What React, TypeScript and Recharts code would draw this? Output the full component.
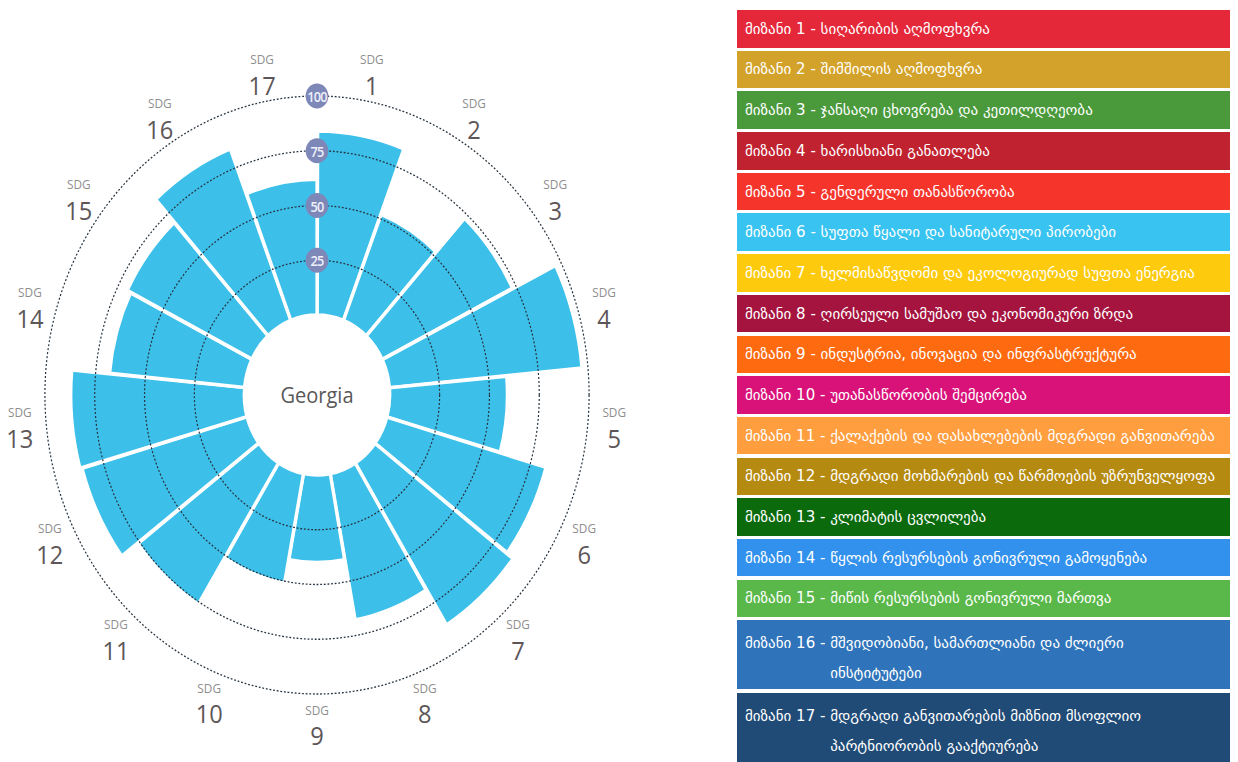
import React from 'react';
import { RadialBarChart, RadialBar, PolarAngleAxis, PolarRadiusAxis, PolarGrid } from 'recharts';

// ---- data ----
const CATEGORIES = ['1', '2', '3', '4', '5', '6', '7', '8', '9', '10', '11', '12', '13', '14', '15', '16', '17'];
const SCORES = [84, 52, 73, 97, 59, 83, 87, 68, 40, 51, 76, 86, 87, 68, 70, 84, 62];
const RADIUS_TICKS = [25, 50, 75, 100];
const COUNTRY = 'Georgia';
const AXIS_PREFIX = 'SDG';
const GOAL_WORD = 'მიზანი';
const GOAL_NAMES = [
  'სიღარიბის აღმოფხვრა',
  'შიმშილის აღმოფხვრა',
  'ჯანსაღი ცხოვრება და კეთილდღეობა',
  'ხარისხიანი განათლება',
  'გენდერული თანასწორობა',
  'სუფთა წყალი და სანიტარული პირობები',
  'ხელმისაწვდომი და ეკოლოგიურად სუფთა ენერგია',
  'ღირსეული სამუშაო და ეკონომიკური ზრდა',
  'ინდუსტრია, ინოვაცია და ინფრასტრუქტურა',
  'უთანასწორობის შემცირება',
  'ქალაქების და დასახლებების მდგრადი განვითარება',
  'მდგრადი მოხმარების და წარმოების უზრუნველყოფა',
  'კლიმატის ცვლილება',
  'წყლის რესურსების გონივრული გამოყენება',
  'მიწის რესურსების გონივრული მართვა',
  'მშვიდობიანი, სამართლიანი და ძლიერი\nინსტიტუტები',
  'მდგრადი განვითარების მიზნით მსოფლიო\nპარტნიორობის გააქტიურება',
];
const GOAL_COLORS = [
  '#e4283a', '#d3a22a', '#4a9a3c', '#c0222f', '#f5352b', '#38c3f0', '#fdca0e', '#a4143f', '#fd6a10',
  '#d9127a', '#fe9e3f', '#b58a10', '#0a6a0c', '#3191ec', '#5ab84a', '#2f74ba', '#1f4b76',
];

const chartData = CATEGORIES.map((c, i) => ({ name: c, score: SCORES[i] }));

// ---- layout / style ----
const CX = 317; // page x of centre
const CY = 395;
const OFFSET_X = 40;
const SVG_W = 720;
const SVG_H = 762;
const SVG_CX = CX + OFFSET_X;
const INNER = 80;
const OUTER = 299;
const SX = 0.91;
const LABEL_R = 328;
const STEP = 360 / CATEGORIES.length;
const START = 90 - STEP;
const END = START - 360;
const BAR_COLOR = '#3cbfe9';
const FONT = '"Open Sans", "DejaVu Sans", sans-serif';

function AngleTick(props: any) {
  const { payload } = props;
  const angle = payload.coordinate + STEP / 2;
  const a = (-angle * Math.PI) / 180;
  const x = SVG_CX + Math.cos(a) * LABEL_R;
  const y = CY + Math.sin(a) * LABEL_R;
  return (
    <g>
      <text x={x} y={y - 13} textAnchor="middle" dominantBaseline="central" fontSize={13} fill="#8e8e8e" fontFamily={FONT}>
        {AXIS_PREFIX}
      </text>
      <text x={x} y={y + 12} textAnchor="middle" dominantBaseline="central" fontSize={26} fill="#5d5658" fontFamily={FONT}>
        {payload.value}
      </text>
    </g>
  );
}

function RadiusTick(props: any) {
  const { x, y, payload } = props;
  return (
    <g>
      <circle cx={x} cy={y} r={12.5} fill="#7d87b8" />
      <text x={x} y={y + 1} textAnchor="middle" dominantBaseline="central" fontSize={14} fill="#eef0fa" fontFamily={FONT} fontWeight={600} letterSpacing={-0.8}>
        {payload.value}
      </text>
    </g>
  );
}

const chartProps = {
  width: SVG_W,
  height: SVG_H,
  cx: SVG_CX,
  cy: CY,
  innerRadius: INNER,
  outerRadius: OUTER,
  startAngle: START,
  endAngle: END,
  layout: 'centric' as const,
  data: chartData,
  barCategoryGap: 0,
  margin: { top: 0, right: 0, bottom: 0, left: 0 },
};

export default function App() {
  const layer: React.CSSProperties = { position: 'absolute', left: 0, top: 0 };
  return (
    <div style={{ position: 'absolute', left: 0, top: 0, width: 1238, height: 762, background: '#fff', overflow: 'hidden' }}>
      <div
        style={{
          position: 'absolute',
          left: -OFFSET_X,
          top: 0,
          width: SVG_W,
          height: SVG_H,
          transform: `scaleX(${SX})`,
          transformOrigin: `${SVG_CX}px 0px`,
        }}
      >
        <div style={layer}>
          <RadialBarChart {...chartProps}>
            <PolarAngleAxis type="category" dataKey="name" axisLine={false} tickLine={false} tick={AngleTick} />
            <PolarRadiusAxis type="number" domain={[0, 100]} ticks={RADIUS_TICKS} tick={false} axisLine={false} tickLine={false} />
            <RadialBar dataKey="score" fill={BAR_COLOR} stroke="#ffffff" strokeWidth={3.5} isAnimationActive={false} />
          </RadialBarChart>
        </div>
        <div style={layer}>
          <RadialBarChart {...chartProps}>
            <PolarAngleAxis type="category" dataKey="name" axisLine={false} tickLine={false} tick={false} />
            <PolarGrid gridType="circle" radialLines={false} stroke="#26333f" strokeWidth={1.3} strokeDasharray="2 2" />
            <PolarRadiusAxis type="number" domain={[0, 100]} ticks={RADIUS_TICKS} angle={90} axisLine={false} tickLine={false} tick={RadiusTick} />
            <RadialBar dataKey="score" fill="none" stroke="none" isAnimationActive={false} />
          </RadialBarChart>
        </div>
        <div
          style={{
            position: 'absolute',
            left: SVG_CX - 70,
            top: CY - 16,
            width: 140,
            textAlign: 'center',
            fontFamily: FONT,
            fontSize: 22,
            lineHeight: '30px',
            color: '#585858',
          }}
        >
          {COUNTRY}
        </div>
      </div>
      <div style={{ position: 'absolute', left: 737, top: 10, width: 493, fontFamily: '"DejaVu Sans", sans-serif', fontSize: 15, color: '#fff' }}>
        {GOAL_NAMES.map((name, i) => {
          const two = name.includes('\n');
          return (
            <div
              key={i}
              style={{
                background: GOAL_COLORS[i],
                height: two ? 69 : 37.5,
                marginBottom: 3.2,
                display: 'flex',
                alignItems: two ? 'flex-start' : 'center',
                paddingLeft: 8,
                paddingTop: two ? 8 : 0,
                boxSizing: 'border-box',
                lineHeight: two ? '30px' : '20px',
                whiteSpace: 'nowrap',
              }}
            >
              <span style={{ whiteSpace: 'pre' }}>{`${GOAL_WORD} ${CATEGORIES[i]} - `}</span>
              <span style={{ whiteSpace: 'pre-line' }}>{name}</span>
            </div>
          );
        })}
      </div>
    </div>
  );
}
